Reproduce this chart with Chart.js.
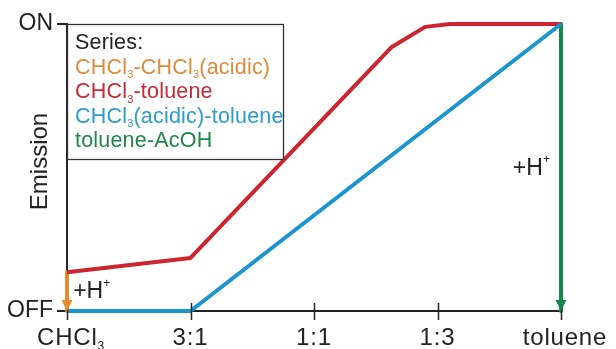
<!DOCTYPE html>
<html><head><meta charset="utf-8">
<script src="https://cdn.jsdelivr.net/npm/chart.js@4/dist/chart.umd.min.js"></script>
<style>html,body{margin:0;padding:0;background:#fff}</style>
</head><body>
<canvas id="c" width="616" height="349"></canvas>
<script>
// ---- data ----
const xTickValues = [0, 1, 2, 3, 4];
const xTickLabels = ['CHCl_3', '3:1', '1:1', '1:3', 'toluene'];
const yTickLabels = ['OFF', 'ON'];
const yTitle = 'Emission';
const legendTitle = 'Series:';
const seriesNames = ['CHCl_3-CHCl_3(acidic)', 'CHCl_3-toluene', 'CHCl_3(acidic)-toluene', 'toluene-AcOH'];

const orangeX = [0, 0];
const orangeY = [0.135, 0];
const redX = [0, 1, 2.63, 2.9, 3.1, 4];
const redY = [0.135, 0.185, 0.92, 0.99, 1, 1];
const blueX = [0, 1, 4];
const blueY = [0, 0, 1];
const greenX = [4, 4];
const greenY = [1, 0];

const protonLabel = '+H^+';
const protonLabelPos = [[0.05, 0.045], [3.61, 0.474]];

// ---- styles ----
const FONT = '"Liberation Sans", Arial, Helvetica, sans-serif';
const INK = '#222222';
const lineColors = ['#e68a2a', '#cc2530', '#1b95cf', '#14894b'];
const textColors = ['#dc8a3c', '#c42a34', '#2b9ccc', '#1f8748'];

const pts = (xs, ys) => xs.map((x, i) => ({x: x, y: ys[i]}));

function parseRich(str) {
  const segs = [];
  for (let i = 0; i < str.length; i++) {
    const ch = str[i];
    if ((ch === '_' || ch === '^') && i + 1 < str.length) {
      segs.push({t: str[i + 1], k: ch}); i++;
    } else {
      const last = segs[segs.length - 1];
      if (last && last.k === 'n') last.t += ch; else segs.push({t: ch, k: 'n'});
    }
  }
  return segs;
}
function drawRich(ctx, str, x, y, size, color, align, spacing) {
  const segs = parseRich(str);
  const mainF = size + 'px ' + FONT;
  const smallF = Math.round(size * 0.5) + 'px ' + FONT;
  ctx.save();
  ctx.fillStyle = color;
  ctx.textBaseline = 'alphabetic';
  ctx.textAlign = 'left';
  try { ctx.letterSpacing = (spacing || 0) + 'px'; } catch (e) {}
  let w = 0;
  segs.forEach(s => { ctx.font = s.k === 'n' ? mainF : smallF; s.w = ctx.measureText(s.t).width; w += s.w; });
  let cx = align === 'center' ? x - w / 2 : (align === 'right' ? x - w : x);
  segs.forEach(s => {
    ctx.font = s.k === 'n' ? mainF : smallF;
    let yy = y;
    if (s.k === '_') yy = y + size * 0.2;
    if (s.k === '^') yy = y - size * 0.5;
    ctx.fillText(s.t, cx, yy);
    cx += s.w;
  });
  ctx.restore();
}

const decor = {
  id: 'decor',
  afterDatasetsDraw(chart) {
    const ctx = chart.ctx, xs = chart.scales.x, ys = chart.scales.y, ca = chart.chartArea;
    // x tick marks crossing the axis
    ctx.save();
    ctx.strokeStyle = INK; ctx.lineWidth = 1.5;
    xTickValues.forEach(v => {
      const px = Math.round(xs.getPixelForValue(v)) + 0.5;
      ctx.beginPath(); ctx.moveTo(px, ca.bottom - 8); ctx.lineTo(px, ca.bottom + 9); ctx.stroke();
    });
    ctx.restore();
    // arrowheads
    chart.data.datasets.forEach((ds, i) => {
      if (!ds.arrowHead) return;
      const d = chart.getDatasetMeta(i).data;
      const a = d[d.length - 2], b = d[d.length - 1];
      const dx = b.x - a.x, dy = b.y - a.y, L = Math.hypot(dx, dy);
      const ux = dx / L, uy = dy / L, len = 11, hw = 5.5;
      const bx = b.x - ux * len, by = b.y - uy * len;
      ctx.save();
      ctx.fillStyle = ds.borderColor;
      ctx.beginPath();
      ctx.moveTo(b.x, b.y);
      ctx.lineTo(bx - uy * hw, by + ux * hw);
      ctx.lineTo(bx + uy * hw, by - ux * hw);
      ctx.closePath(); ctx.fill();
      ctx.restore();
    });
    // x tick labels
    xTickValues.forEach((v, i) => {
      drawRich(ctx, xTickLabels[i], xs.getPixelForValue(v) + (i === 0 ? 4 : (i === 4 ? 4 : 0)), 345, 24, INK, 'center', 0.8);
    });
    // +H+ labels
    protonLabelPos.forEach(p => {
      drawRich(ctx, protonLabel, xs.getPixelForValue(p[0]), ys.getPixelForValue(p[1]), 23, INK, 'left', 0);
    });
    // y title
    ctx.save();
    ctx.translate(40, (ca.top + ca.bottom) / 2 - 6);
    ctx.rotate(-Math.PI / 2);
    ctx.font = '24px ' + FONT; ctx.fillStyle = INK;
    ctx.textAlign = 'center'; ctx.textBaseline = 'middle';
    ctx.fillText(yTitle, 0, 0);
    ctx.restore();
    // legend box
    const lx = ca.left, ly = ca.top, lw = 216, lh = 135;
    ctx.save();
    ctx.fillStyle = '#fff';
    ctx.fillRect(lx + 1, ly + 1, lw - 1, lh - 1);
    ctx.strokeStyle = '#333'; ctx.lineWidth = 1.3;
    ctx.strokeRect(lx + 0.5, ly + 0.5, lw, lh);
    ctx.restore();
    drawRich(ctx, legendTitle, lx + 8, ly + 25, 21.5, INK, 'left', 0.2);
    seriesNames.forEach((n, i) => {
      drawRich(ctx, n, lx + 8, ly + 25 + (i + 1) * 24.6, 21.5, textColors[i], 'left', 0.2);
    });
  }
};

new Chart(document.getElementById('c'), {
  type: 'line',
  data: {
    datasets: [
      {label: seriesNames[2], data: pts(blueX, blueY), borderColor: lineColors[2]},
      {label: seriesNames[1], data: pts(redX, redY), borderColor: lineColors[1]},
      {label: seriesNames[0], data: pts(orangeX, orangeY), borderColor: lineColors[0], arrowHead: true},
      {label: seriesNames[3], data: pts(greenX, greenY), borderColor: lineColors[3], arrowHead: true}
    ].map(d => Object.assign({borderWidth: 4, pointRadius: 0, tension: 0, clip: false,
      borderJoinStyle: 'round', borderCapStyle: 'butt', fill: false}, d))
  },
  options: {
    responsive: false,
    animation: false,
    events: [],
    layout: {padding: {top: 24, right: 55, left: 0, bottom: 0}},
    plugins: {legend: {display: false}, tooltip: {enabled: false}},
    scales: {
      x: {
        type: 'linear', min: 0, max: 4,
        ticks: {display: false, stepSize: 1},
        grid: {display: false},
        border: {display: true, color: INK, width: 2},
        afterFit: s => { s.height = 38; }
      },
      y: {
        type: 'linear', min: 0, max: 1,
        ticks: {stepSize: 1, padding: 4, color: INK, font: {size: 23, family: FONT},
          callback: v => yTickLabels[v]},
        grid: {drawOnChartArea: false, drawTicks: true, tickLength: 10, color: INK, lineWidth: 2},
        border: {display: true, color: INK, width: 2},
        afterFit: s => { s.width = 67; }
      }
    }
  },
  plugins: [decor]
});
</script>
</body></html>
